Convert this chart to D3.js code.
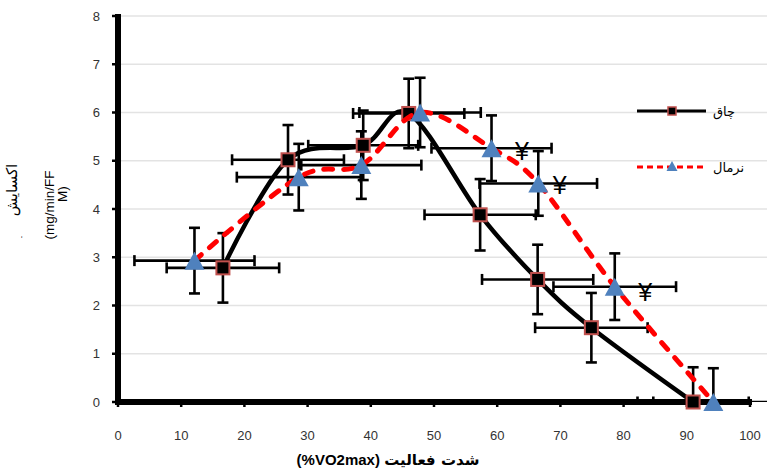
<!DOCTYPE html>
<html>
<head>
<meta charset="utf-8">
<script src="https://cdn.jsdelivr.net/npm/d3@7"></script>
<style>
  body { margin: 0; background: #fff; }
  svg { display: block; }
</style>
</head>
<body>
<div id="chart"></div>
<script>
// obese group (squares, solid black line)
const obeseX = [16.6, 26.9, 38.8, 46.0, 57.3, 66.4, 74.9, 91.0];
const obeseY = [2.78, 5.02, 5.32, 5.98, 3.88, 2.54, 1.54, 0];
const obeseYErr = [0.72, 0.72, 0.72, 0.72, 0.74, 0.72, 0.72, 0.72];
const obeseXErr = [8.9, 8.85, 8.7, 8.8, 8.8, 8.8, 8.9, 8.8];

// normal group (triangles, dashed red line)
const normalX = [12.1, 28.6, 38.5, 47.8, 59.1, 66.5, 78.6, 94.2];
const normalY = [2.93, 4.66, 4.91, 6.0, 5.26, 4.53, 2.39, 0];
const normalYErr = [0.68, 0.69, 0.70, 0.72, 0.68, 0.67, 0.69, 0.70];
const normalXErr = [9.5, 9.8, 9.5, 9.6, 9.5, 9.3, 9.7, 9.5];

// significance marks
const markX = [63.9, 69.9, 83.4];
const markY = [5.19, 4.48, 2.25];

const xTicks = [0, 10, 20, 30, 40, 50, 60, 70, 80, 90, 100];
const yTicks = [0, 1, 2, 3, 4, 5, 6, 7, 8];

const width = 767, height = 469;
const svg = d3.select("#chart").append("svg")
  .attr("width", width)
  .attr("height", height);

const x = d3.scaleLinear().domain([0, 100]).range([118, 750]);
const y = d3.scaleLinear().domain([0, 8]).range([402, 16]);
const plotRight = 767;

const latin = "'Liberation Sans', Arial, sans-serif";
const arabic = "'DejaVu Sans', 'Noto Sans', sans-serif";

// gridlines
svg.append("g").selectAll("line")
  .data(yTicks.filter(d => d > 0))
  .join("line")
  .attr("x1", x(0)).attr("x2", plotRight)
  .attr("y1", d => y(d)).attr("y2", d => y(d))
  .attr("stroke", "#e3e3e3")
  .attr("stroke-width", 1.3);

// clip for error bars
svg.append("clipPath").attr("id", "plot-clip")
  .append("rect")
  .attr("x", x(0)).attr("y", 0)
  .attr("width", plotRight - x(0)).attr("height", y(0));

function series(xs, ys, xe, ye) {
  return xs.map((d, i) => ({ x: d, y: ys[i], xe: xe[i], ye: ye[i] }));
}
const obese = series(obeseX, obeseY, obeseXErr, obeseYErr);
const normal = series(normalX, normalY, normalXErr, normalYErr);

// error bars
function drawErrors(data) {
  const g = svg.append("g")
    .attr("clip-path", "url(#plot-clip)")
    .attr("stroke", "#000")
    .attr("stroke-width", 2.6)
    .attr("fill", "none");
  const cap = 5.5;
  data.forEach(d => {
    const cx = x(d.x), cy = y(d.y);
    const y1 = y(d.y + d.ye), y2 = y(d.y - d.ye);
    const x1 = x(d.x - d.xe), x2 = x(d.x + d.xe);
    g.append("line").attr("x1", cx).attr("x2", cx).attr("y1", y1).attr("y2", y2);
    g.append("line").attr("x1", cx - cap).attr("x2", cx + cap).attr("y1", y1).attr("y2", y1);
    g.append("line").attr("x1", cx - cap).attr("x2", cx + cap).attr("y1", y2).attr("y2", y2);
    g.append("line").attr("x1", x1).attr("x2", x2).attr("y1", cy).attr("y2", cy);
    g.append("line").attr("x1", x1).attr("x2", x1).attr("y1", cy - cap).attr("y2", cy + cap);
    g.append("line").attr("x1", x2).attr("x2", x2).attr("y1", cy - cap).attr("y2", cy + cap);
  });
}
drawErrors(obese);
drawErrors(normal);

// axes
svg.append("line")
  .attr("x1", x(0)).attr("x2", x(0))
  .attr("y1", y(8) - 2).attr("y2", y(0) + 3)
  .attr("stroke", "#000").attr("stroke-width", 6);
svg.append("line")
  .attr("x1", x(0) - 3).attr("x2", x(100) + 2)
  .attr("y1", y(0)).attr("y2", y(0))
  .attr("stroke", "#000").attr("stroke-width", 6);

svg.append("g").selectAll("line")
  .data(yTicks)
  .join("line")
  .attr("x1", x(0) - 6).attr("x2", x(0))
  .attr("y1", d => y(d)).attr("y2", d => y(d))
  .attr("stroke", "#000").attr("stroke-width", 2.5);
svg.append("g").selectAll("line")
  .data(xTicks)
  .join("line")
  .attr("x1", d => x(d)).attr("x2", d => x(d))
  .attr("y1", y(0)).attr("y2", y(0) + 5)
  .attr("stroke", "#000").attr("stroke-width", 2.5);

svg.append("g").selectAll("text")
  .data(yTicks)
  .join("text")
  .attr("x", 100).attr("y", d => y(d) + 4.5)
  .attr("text-anchor", "end")
  .style("font-family", latin).style("font-size", "13px").attr("fill", "#333")
  .text(d => d);
svg.append("g").selectAll("text")
  .data(xTicks)
  .join("text")
  .attr("x", d => x(d)).attr("y", 440)
  .attr("text-anchor", "middle")
  .style("font-family", latin).style("font-size", "13px").attr("fill", "#333")
  .text(d => d);

// lines
const line = d3.line()
  .x(d => x(d.x)).y(d => y(d.y))
  .curve(d3.curveCardinal.tension(0));

svg.append("path")
  .datum(obese)
  .attr("d", line)
  .attr("fill", "none")
  .attr("stroke", "#000")
  .attr("stroke-width", 4.5);

svg.append("g").selectAll("rect")
  .data(obese)
  .join("rect")
  .attr("x", d => x(d.x) - 6.5).attr("y", d => y(d.y) - 6.5)
  .attr("width", 13).attr("height", 13)
  .attr("fill", "#000")
  .attr("stroke", "#C0504D").attr("stroke-width", 2);

svg.append("path")
  .datum(normal)
  .attr("d", line)
  .attr("fill", "none")
  .attr("stroke", "#FF0000")
  .attr("stroke-width", 5)
  .attr("stroke-linecap", "round")
  .attr("stroke-dasharray", "9,11");

const tri = (cx, cy, w, h) =>
  `M${cx},${cy - h / 2}L${cx + w / 2},${cy + h / 2}L${cx - w / 2},${cy + h / 2}Z`;

svg.append("g").selectAll("path")
  .data(normal)
  .join("path")
  .attr("d", d => tri(x(d.x), y(d.y), 20, 18))
  .attr("fill", "#4F81BD");

// significance marks
svg.append("g").selectAll("text")
  .data(markX)
  .join("text")
  .attr("x", d => x(d))
  .attr("y", (d, i) => y(markY[i]) + 8)
  .attr("text-anchor", "middle")
  .style("font-family", latin).style("font-size", "25px")
  .attr("fill", "#000")
  .text("¥");

// axis titles
svg.append("text")
  .attr("x", 388).attr("y", 465)
  .attr("text-anchor", "middle")
  .attr("direction", "ltr")
  .style("font-size", "15px").style("font-weight", "bold")
  .style("font-family", latin)
  .text("(%VO2max) ")
  .append("tspan")
  .style("font-family", arabic)
  .text("شدت فعالیت");

const yTitle = [
  { t: "اکسایش", bx: 17, cy: 190, f: arabic, s: 15 },
  { t: "ـ", bx: 22, cy: 237, f: arabic, s: 6 },
  { t: "(mg/min/FF", bx: 54, cy: 205, f: latin, s: 13.5 },
  { t: "M)", bx: 67, cy: 194, f: latin, s: 13.5 }
];
svg.append("g").selectAll("text")
  .data(yTitle)
  .join("text")
  .attr("transform", d => `translate(${d.bx},${d.cy}) rotate(-90)`)
  .attr("text-anchor", "middle")
  .style("font-family", d => d.f)
  .style("font-size", d => d.s + "px")
  .attr("fill", "#000")
  .text(d => d.t);

// legend
const legend = svg.append("g");
legend.append("line")
  .attr("x1", 637).attr("x2", 706).attr("y1", 111).attr("y2", 111)
  .attr("stroke", "#000").attr("stroke-width", 3);
legend.append("rect")
  .attr("x", 668).attr("y", 107).attr("width", 8).attr("height", 8)
  .attr("fill", "#000").attr("stroke", "#C0504D").attr("stroke-width", 1.5);
legend.append("text")
  .attr("x", 713).attr("y", 116)
  .style("font-family", arabic).style("font-size", "13px")
  .text("چاق");

legend.append("line")
  .attr("x1", 637).attr("x2", 706).attr("y1", 167).attr("y2", 167)
  .attr("stroke", "#FF0000").attr("stroke-width", 3)
  .attr("stroke-dasharray", "6,4");
legend.append("path")
  .attr("d", tri(672, 166, 11, 10))
  .attr("fill", "#4F81BD");
legend.append("text")
  .attr("x", 713).attr("y", 172)
  .style("font-family", arabic).style("font-size", "13px")
  .text("نرمال");
</script>
</body>
</html>
